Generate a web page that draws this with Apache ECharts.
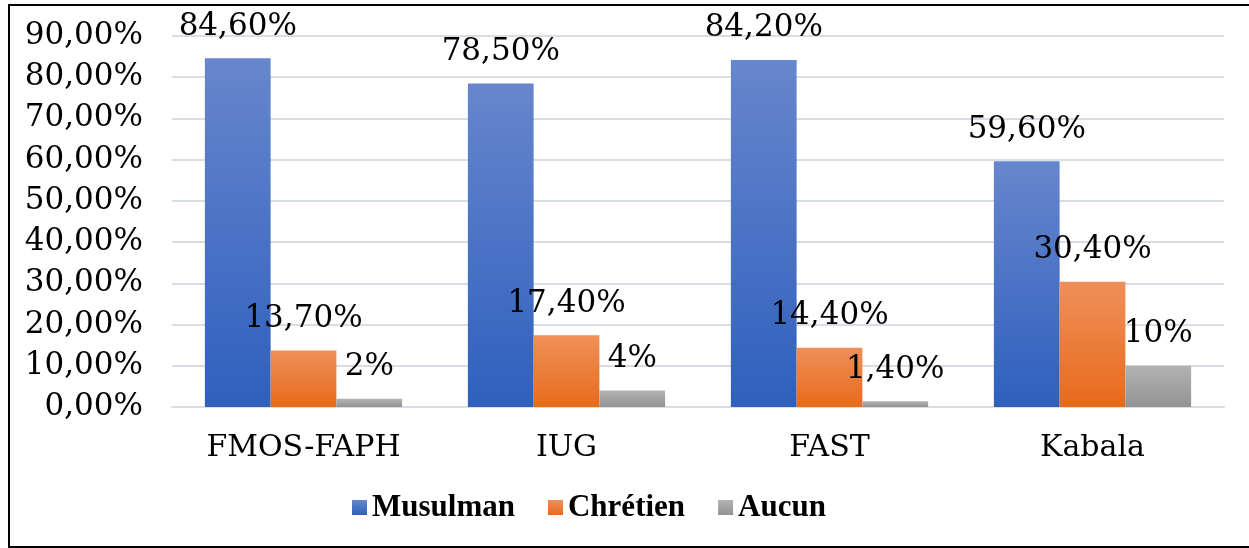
<!DOCTYPE html>
<html>
<head>
<meta charset="utf-8">
<script src="https://cdn.jsdelivr.net/npm/echarts@6/dist/echarts.min.js"></script>
<style>
  html, body { margin: 0; padding: 0; background: #fff; }
  #chart { width: 1249px; height: 548px; }
</style>
</head>
<body>
<div id="chart"></div>
<script>
const categories = ['FMOS-FAPH', 'IUG', 'FAST', 'Kabala'];
const musulman = [84.6, 78.5, 84.2, 59.6];
const chretien = [13.7, 17.4, 14.4, 30.4];
const aucun = [2, 4, 1.4, 10];
const musulmanLabels = ['84,60%', '78,50%', '84,20%', '59,60%'];
const chretienLabels = ['13,70%', '17,40%', '14,40%', '30,40%'];
const aucunLabels = ['2%', '4%', '1,40%', '10%'];
const yTicks = [0, 10, 20, 30, 40, 50, 60, 70, 80, 90];

const serif = '"DejaVu Serif", "Liberation Serif", serif';
const boldSerif = '"Liberation Serif", "DejaVu Serif", serif';

function grad(top, bottom) {
  return new echarts.graphic.LinearGradient(0, 0, 0, 1, [
    { offset: 0, color: top },
    { offset: 1, color: bottom }
  ]);
}

function makeSeries(name, values, labels, top, bottom) {
  return {
    name: name,
    type: 'bar',
    barGap: '0%',
    barCategoryGap: '25%',
    data: values,
    itemStyle: { color: grad(top, bottom) },
    label: {
      show: true,
      position: 'top',
      distance: 16,
      fontFamily: serif,
      fontSize: 31,
      color: '#000',
      formatter: p => labels[p.dataIndex]
    }
  };
}

const chart = echarts.init(document.getElementById('chart'));
chart.setOption({
  animation: false,
  backgroundColor: '#fff',
  graphic: [{
    type: 'rect',
    shape: { x: 9, y: 5, width: 1400, height: 542 },
    style: { fill: 'none', stroke: '#000', lineWidth: 2 },
    silent: true
  }],
  grid: { left: 172, right: 25, top: 36, bottom: 141, containLabel: false },
  legend: {
    top: 487,
    left: 347,
    itemWidth: 15,
    itemHeight: 15,
    itemGap: 33,
    icon: 'rect',
    textStyle: { fontFamily: boldSerif, fontSize: 31, fontWeight: 'bold', color: '#000' },
    data: ['Musulman', 'Chrétien', 'Aucun']
  },
  xAxis: {
    type: 'category',
    data: categories,
    axisLine: { lineStyle: { color: '#d9dde4', width: 2 } },
    axisTick: { show: false },
    axisLabel: { fontFamily: serif, fontSize: 30, color: '#000', margin: 26 }
  },
  yAxis: {
    type: 'value',
    min: yTicks[0],
    max: yTicks[yTicks.length - 1],
    interval: 10,
    axisLine: { show: false },
    axisTick: { show: false },
    splitLine: { lineStyle: { color: '#d9dde4', width: 2 } },
    axisLabel: {
      fontFamily: serif,
      fontSize: 31,
      color: '#000',
      margin: 29,
      formatter: v => v.toFixed(2).replace('.', ',') + '%'
    }
  },
  series: [
    makeSeries('Musulman', musulman, musulmanLabels, '#6786cd', '#2e60bd'),
    makeSeries('Chrétien', chretien, chretienLabels, '#f08f5a', '#e66b1b'),
    makeSeries('Aucun', aucun, aucunLabels, '#b3b3b3', '#939393')
  ]
});
</script>
</body>
</html>
